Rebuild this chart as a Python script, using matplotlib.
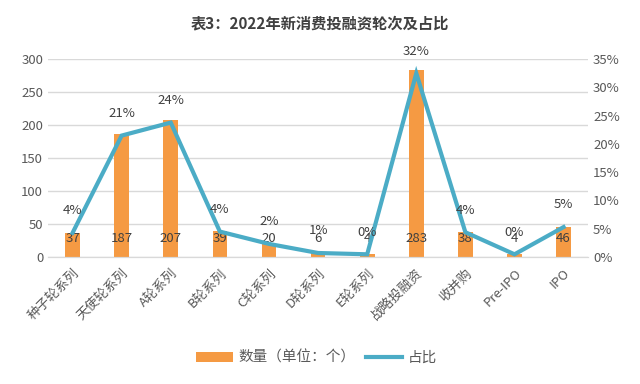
import matplotlib
matplotlib.use("Agg")
import matplotlib.pyplot as plt
from matplotlib.ticker import FuncFormatter, MultipleLocator

plt.rcParams['font.family'] = ['Noto Sans CJK SC', 'DejaVu Sans']

# data
categories = ['种子轮系列', '天使轮系列', 'A轮系列', 'B轮系列', 'C轮系列', 'D轮系列',
              'E轮系列', '战略投融资', '收并购', 'Pre-IPO', 'IPO']
counts = [37, 187, 207, 39, 20, 6, 4, 283, 38, 4, 46]
shares = [0.0425, 0.2147, 0.2377, 0.0448, 0.0230, 0.0069, 0.0046, 0.3249, 0.0436, 0.0046, 0.0528]

bar_color = '#F59A43'
line_color = '#4BACC6'
text_color = '#404040'
tick_color = '#595959'

fig = plt.figure(figsize=(6.4, 3.84), dpi=100)
ax = fig.add_axes([0.075, 0.331, 0.844, 0.515])
ax2 = ax.twinx()

x = list(range(len(categories)))
bars = ax.bar(x, counts, width=0.3, color=bar_color, zorder=2, label='数量（单位：个）')
ax.set_ylim(0, 300)
ax.set_xlim(-0.5, len(categories) - 0.5)
ax.yaxis.set_major_locator(MultipleLocator(50))
ax.grid(axis='y', color='#D9D9D9', linewidth=1, zorder=0)
ax.set_axisbelow(True)
ax.set_xticks(x)
ax.set_xticklabels(categories, rotation=45, ha='right', rotation_mode='anchor',
                   fontsize=9.5, color=tick_color)
ax.tick_params(axis='y', labelsize=9.5, colors=tick_color, length=0)
ax.tick_params(axis='x', length=0, pad=7)

for xi, c in zip(x, counts):
    ax.text(xi, 28, str(c), ha='center', va='center', fontsize=9.5, color=text_color, zorder=5)

line, = ax2.plot(x, shares, color=line_color, linewidth=3, zorder=3, label='占比',
                 solid_joinstyle='miter')
ax2.set_ylim(0, 0.35)
ax2.yaxis.set_major_locator(MultipleLocator(0.05))
ax2.yaxis.set_major_formatter(FuncFormatter(lambda v, p: f'{v:.0%}'))
ax2.tick_params(axis='y', labelsize=9.5, colors=tick_color, length=0)

for xi, s in zip(x, shares):
    ax2.annotate(f'{s:.0%}', (xi, s), xytext=(0, 16), textcoords='offset points',
                 ha='center', va='center', fontsize=9.5, color=text_color)

for a in (ax, ax2):
    for side in ('top', 'left', 'right'):
        a.spines[side].set_visible(False)
    a.spines['bottom'].set_color('#D9D9D9')

fig.text(0.5, 0.94, '表3：2022年新消费投融资轮次及占比', ha='center', va='center',
         fontsize=11, fontweight='bold', color=text_color)

fig.legend([bars, line], ['数量（单位：个）', '占比'], loc='center', bbox_to_anchor=(0.495, 0.068),
           ncol=2, frameon=False, fontsize=10.5, labelcolor=tick_color,
           handlelength=2.5, handletextpad=0.4, columnspacing=0.7)

fig.savefig('out.png', dpi=100, facecolor='white')
